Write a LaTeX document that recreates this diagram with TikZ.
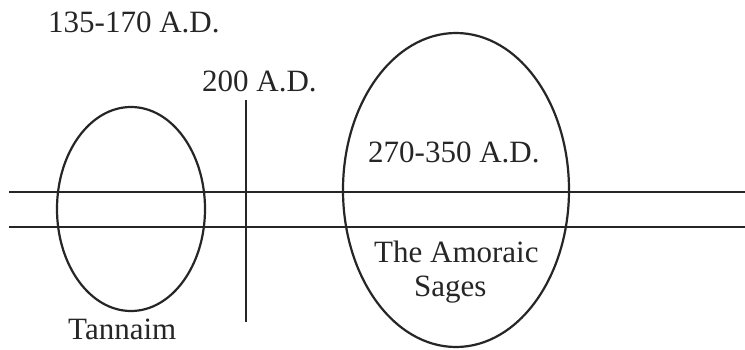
\documentclass[tikz,border=0pt]{standalone}
\usepackage{fontspec}
\setmainfont{Liberation Serif}
\usetikzlibrary{shapes.geometric}
\begin{document}
\begin{tikzpicture}[x=1pt,y=-1pt,
  ln/.style={line width=2.2pt,black!85},
  oval/.style={draw,ellipse,line width=2.2pt,black!85,inner sep=0pt},
  lbl/.style={anchor=base west,inner sep=0pt,font=\fontsize{31}{36}\selectfont,text=black!85}]
\useasboundingbox (0,0) rectangle (745,350);
\fill[white] (0,0) rectangle (745,350);
\coordinate (h1a) at (9,192); \coordinate (h1b) at (745,192);
\coordinate (h2a) at (9,227); \coordinate (h2b) at (745,227);
\coordinate (vt) at (246,100); \coordinate (vb) at (246,322);
\draw[ln] (h1a) -- (h1b);
\draw[ln] (h2a) -- (h2b);
\draw[ln] (vt) -- (vb);
\node[oval,minimum width=148pt,minimum height=204pt] (tann) at (131,209) {};
\node[oval,minimum width=226pt,minimum height=314pt] (amor) at (456,190) {};
\node[lbl] (d1) at (48,33) {135-170 A.D.};
\node[lbl] (d2) at (202,92) {200 A.D.};
\node[lbl] (d3) at (368,163) {270-350 A.D.};
\node[lbl] (t1) at (374,262) {The Amoraic};
\node[lbl] (t2) at (414,296) {Sages};
\node[lbl] (t3) at (68,339) {Tannaim};
\end{tikzpicture}
\end{document}
